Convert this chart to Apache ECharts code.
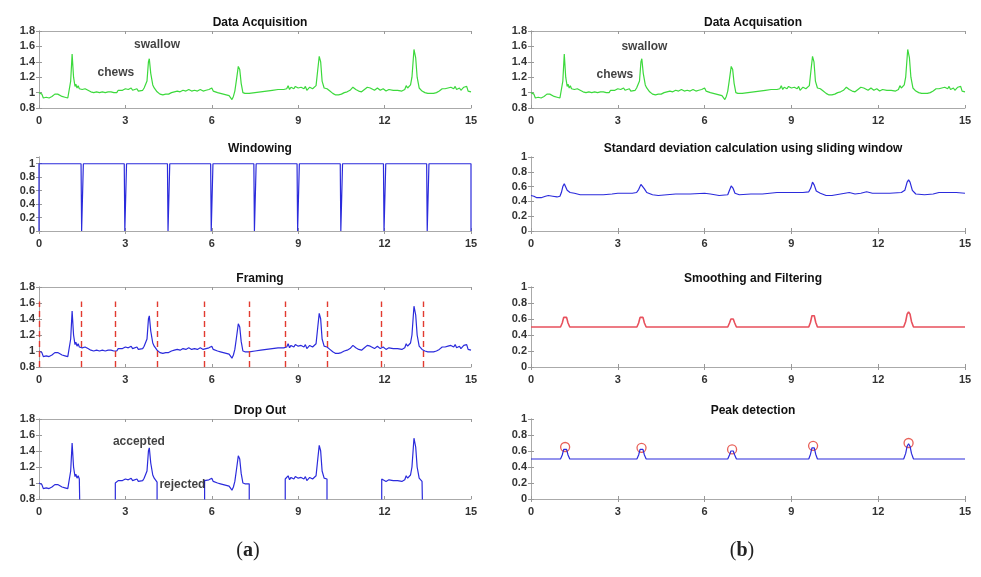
<!DOCTYPE html>
<html lang="en">
<head>
<meta charset="UTF-8">
<title>Swallow detection steps</title>
<script src="https://cdn.jsdelivr.net/npm/echarts@6/dist/echarts.min.js"></script>
<style>
    html, body { margin: 0; padding: 0; background: #fff; }
    #container { width: 981px; height: 577px; }
</style>
</head>
<body>
<div id="container"></div>
<script>
var sigT = [0.00,0.05,0.10,0.15,0.20,0.25,0.30,0.35,0.40,0.45,0.50,0.55,0.60,0.65,0.70,0.80,0.90,1.00,1.05,1.10,
    1.15,1.20,1.25,1.28,1.32,1.36,1.40,1.45,1.50,1.60,1.70,1.80,1.90,2.00,2.10,2.20,2.30,2.40,2.50,2.60,
    2.70,2.75,2.80,2.90,3.00,3.05,3.10,3.20,3.25,3.30,3.40,3.45,3.50,3.60,3.65,3.70,3.75,3.80,3.83,3.88,
    3.95,4.00,4.10,4.20,4.30,4.40,4.50,4.60,4.70,4.80,4.90,5.00,5.10,5.20,5.30,5.40,5.50,5.60,5.70,5.80,
    5.90,6.00,6.05,6.10,6.20,6.30,6.40,6.50,6.60,6.70,6.75,6.80,6.85,6.92,6.97,7.02,7.08,7.15,7.30,7.50,
    7.70,7.90,8.10,8.30,8.50,8.60,8.65,8.70,8.75,8.85,8.90,9.00,9.10,9.20,9.25,9.30,9.40,9.45,9.50,9.55,
    9.62,9.68,9.73,9.78,9.83,9.90,9.95,10.00,10.10,10.20,10.30,10.40,10.50,10.60,10.70,10.80,10.90,11.00,11.10,11.20,
    11.30,11.40,11.50,11.55,11.65,11.75,11.85,11.95,12.05,12.15,12.30,12.45,12.60,12.70,12.75,12.80,12.90,12.95,13.02,13.08,
    13.13,13.20,13.30,13.40,13.50,13.60,13.70,13.80,13.90,14.00,14.05,14.10,14.20,14.25,14.30,14.40,14.45,14.50,14.60,14.65,
    14.75,14.80,14.85,14.90,15.00];
var sigV = [1.00,1.00,0.98,0.93,0.92,0.94,0.92,0.93,0.91,0.95,0.96,0.98,0.99,0.98,0.96,0.95,0.94,0.93,0.95,1.15,
    1.50,1.20,1.08,1.11,1.06,1.09,1.05,1.06,1.04,1.05,1.03,1.01,1.00,1.01,1.00,1.01,1.00,1.01,1.01,1.00,
    1.00,1.03,1.01,1.03,1.05,1.03,1.04,1.06,1.03,1.04,1.05,1.02,1.04,1.03,1.06,1.05,1.15,1.40,1.44,1.25,
    1.10,1.06,1.01,0.98,0.97,0.98,0.98,1.00,1.01,1.02,1.01,1.03,1.02,1.04,1.02,1.03,1.02,1.04,1.02,1.03,
    1.04,1.06,1.02,1.01,1.00,0.99,0.98,0.97,0.96,0.91,0.95,1.02,1.15,1.34,1.30,1.12,1.00,0.99,0.99,1.00,
    1.01,1.02,1.03,1.04,1.04,1.05,1.09,1.04,1.07,1.05,1.08,1.06,1.07,1.05,1.08,1.03,1.07,1.09,1.05,1.07,
    1.09,1.30,1.47,1.40,1.15,1.06,1.08,1.05,1.02,0.99,0.97,0.97,0.98,1.00,1.01,1.03,1.07,1.04,1.02,1.01,
    1.04,1.07,1.06,1.08,1.03,1.06,1.03,1.05,1.02,1.04,1.03,1.03,1.02,1.04,1.09,1.06,1.10,1.20,1.56,1.45,
    1.20,1.06,1.02,1.00,0.99,0.99,0.99,1.00,1.02,1.05,1.07,1.05,1.06,1.04,1.07,1.05,1.08,1.04,1.06,1.03,
    1.07,1.05,1.08,1.02,1.01];

// windowing function
var winT = [0,0,1.46,1.48,1.52,1.54,2.96,2.98,3.02,3.04,4.46,4.48,4.52,4.54,5.96,5.98,6.02,6.04,
    7.46,7.48,7.52,7.54,8.96,8.98,9.02,9.04,10.46,10.48,10.52,10.54,11.96,11.98,12.02,12.04,
    13.46,13.48,13.52,13.54,15,15];
var winV = [0,1,1,0,0,1,1,0,0,1,1,0,0,1,1,0,0,1,
    1,0,0,1,1,0,0,1,1,0,0,1,1,0,0,1,
    1,0,0,1,1,0];

// frame boundaries (red dashed) and frames kept after drop out
var frameEdges = [0, 1.45, 2.65, 4.1, 5.75, 7.3, 8.55, 10.0, 11.9, 13.35];
var frameTop = 1.62;
var keptStart = [0, 2.65, 5.75, 8.55, 11.9];
var keptEnd = [1.45, 4.1, 7.3, 10.0, 13.35];

// standard deviation with sliding window
var stdT = [0.0,0.1,0.2,0.35,0.5,0.6,0.75,0.9,1.0,1.05,1.1,1.15,1.2,1.25,1.35,1.5,1.7,2.0,2.5,2.8,
    3.0,3.3,3.5,3.65,3.72,3.8,3.85,3.92,4.0,4.2,4.4,4.7,5.0,5.5,6.0,6.2,6.5,6.8,6.85,6.92,
    6.98,7.05,7.2,7.6,8.0,8.5,9.0,9.4,9.6,9.67,9.73,9.79,9.86,10.0,10.2,10.4,10.7,11.0,11.2,11.4,
    11.6,11.8,12.0,12.4,12.8,12.92,13.0,13.05,13.1,13.18,13.3,13.6,13.9,14.1,14.4,14.7,15.0];
var stdV = [0.48,0.47,0.45,0.45,0.47,0.48,0.47,0.46,0.47,0.52,0.60,0.64,0.62,0.55,0.52,0.51,0.49,0.49,0.49,0.50,
    0.51,0.51,0.51,0.52,0.56,0.63,0.64,0.57,0.52,0.49,0.48,0.49,0.50,0.50,0.51,0.50,0.48,0.49,0.54,0.61,
    0.58,0.51,0.49,0.50,0.50,0.52,0.52,0.52,0.53,0.58,0.66,0.62,0.54,0.51,0.48,0.48,0.50,0.52,0.50,0.51,
    0.53,0.51,0.51,0.51,0.52,0.55,0.66,0.69,0.66,0.55,0.50,0.49,0.50,0.52,0.52,0.52,0.51];

// smoothed / filtered signal
var smT = [0,1.02,1.08,1.13,1.18,1.23,1.28,1.34,3.66,3.72,3.77,3.82,3.87,3.92,3.98,
    6.80,6.86,6.91,6.95,6.99,7.04,7.10,9.60,9.66,9.71,9.75,9.79,9.84,9.90,
    12.88,12.95,13.00,13.05,13.10,13.15,13.22,15];
var smV = [0.5,0.5,0.55,0.62,0.64,0.62,0.55,0.5,0.5,0.55,0.62,0.64,0.62,0.55,0.5,
    0.5,0.55,0.60,0.61,0.60,0.55,0.5,0.5,0.56,0.64,0.66,0.64,0.56,0.5,
    0.5,0.57,0.66,0.69,0.66,0.57,0.5,0.5];

// detected peaks
var peakT = [1.18, 3.82, 6.95, 9.75, 13.05];
var peakV = [0.65, 0.64, 0.62, 0.665, 0.70];

// panel titles, in order: left column top->bottom, then right column
var titles = ['Data Acquisition', 'Windowing', 'Framing', 'Drop Out',
    'Data Acquisation', 'Standard deviation calculation using sliding window',
    'Smoothing and Filtering', 'Peak detection'];
var yMins = [0.8, 0, 0.8, 0.8, 0.8, 0, 0, 0];
var yMaxs = [1.8, 1.1, 1.8, 1.8, 1.8, 1, 1, 1];
var xTicks = [0, 15, 3];

// text notes inside panels
var notePanel = [0, 0, 4, 4, 3, 3];
var noteText = ['chews', 'swallow', 'chews', 'swallow', 'accepted', 'rejected'];
var noteX = [2.67, 4.1, 2.9, 3.92, 3.47, 4.98];
var noteY = [1.265, 1.62, 1.23, 1.6, 1.52, 0.98];

var GREEN = '#3cd93c', BLUE = '#2b2bdc', RED = '#e23a30', PINK = '#e8505c';
var colLeft = [39, 531], colWidth = [432, 434];
var rowTop = [31, 157, 287, 419], rowHeight = [77, 74, 80, 80];

var chart = echarts.init(document.getElementById('container'));

function pairs(t, v) {
    return t.map(function (x, i) { return [x, v[i]]; });
}

var grids = [], xAxes = [], yAxes = [], titleList = [], series = [];
for (var p = 0; p < 8; p++) {
    var col = p < 4 ? 0 : 1, row = p % 4;
    grids.push({ left: colLeft[col], top: rowTop[row], width: colWidth[col], height: rowHeight[row] });
    titleList.push({
        text: titles[p], left: colLeft[col] + colWidth[col] / 2, top: rowTop[row] - 19,
        textAlign: 'center',
        textStyle: { fontSize: 12, fontWeight: 'bold', color: '#111', fontFamily: 'Liberation Sans' }
    });
    var tick = { show: true, inside: true, length: 3, lineStyle: { color: '#999' } };
    var line = { show: true, lineStyle: { color: '#aaa', width: 1 } };
    xAxes.push({
        type: 'value', gridIndex: p, position: 'bottom', min: xTicks[0], max: xTicks[1], interval: xTicks[2],
        axisLine: line, axisTick: tick, splitLine: { show: false },
        axisLabel: { margin: 7, fontSize: 11, fontWeight: 'bold', color: '#333', fontFamily: 'Liberation Sans' }
    });
    xAxes.push({
        type: 'value', gridIndex: p, position: 'top', min: xTicks[0], max: xTicks[1], interval: xTicks[2],
        axisLine: line, axisTick: tick, axisLabel: { show: false }, splitLine: { show: false }
    });
    yAxes.push({
        type: 'value', gridIndex: p, position: 'left', min: yMins[p], max: yMaxs[p], interval: 0.2,
        axisLine: line, axisTick: tick, splitLine: { show: false },
        axisLabel: { margin: 4, fontSize: 11, fontWeight: 'bold', color: '#333', fontFamily: 'Liberation Sans', showMaxLabel: yMaxs[p] !== 1.1 }
    });
    yAxes.push({
        type: 'value', gridIndex: p, position: 'right', min: yMins[p], max: yMaxs[p], interval: 0.2,
        axisLine: line, axisTick: tick, axisLabel: { show: false }, splitLine: { show: false }
    });
}

function lineSeries(p, data, color, extra) {
    var s = {
        type: 'line', xAxisIndex: p * 2, yAxisIndex: p * 2, data: data, showSymbol: false, symbol: 'none',
        lineStyle: { color: color, width: 1.2 }, itemStyle: { color: color }, silent: true
    };
    for (var k in extra) s[k] = extra[k];
    return s;
}

var signal = pairs(sigT, sigV);
series.push(lineSeries(0, signal, GREEN));
series.push(lineSeries(4, signal, GREEN));
series.push(lineSeries(1, pairs(winT, winV), BLUE));
series.push(lineSeries(2, signal, BLUE, {
    markLine: {
        silent: true, symbol: ['none', 'none'], label: { show: false },
        lineStyle: { color: RED, type: [6, 4], width: 1.4 },
        data: frameEdges.map(function (x) { return [{ coord: [x, yMins[2]] }, { coord: [x, frameTop] }]; })
    }
}));

// drop out: keep only accepted frames, drop to the floor at frame edges
for (var f = 0; f < keptStart.length; f++) {
    var pts = [];
    sigT.forEach(function (t, i) { if (t >= keptStart[f] && t <= keptEnd[f]) pts.push([t, sigV[i]]); });
    if (keptStart[f] > 0) { pts.unshift([keptStart[f], pts[0][1]]); pts.unshift([keptStart[f], 0]); }
    pts.push([keptEnd[f], pts[pts.length - 1][1]]);
    pts.push([keptEnd[f], 0]);
    series.push(lineSeries(3, pts, BLUE));
}

series.push(lineSeries(5, pairs(stdT, stdV), BLUE));
series.push(lineSeries(6, pairs(smT, smV), PINK, { lineStyle: { color: PINK, width: 1.6 } }));
series.push(lineSeries(7, pairs(smT, smV), BLUE));
series.push({
    type: 'scatter', xAxisIndex: 14, yAxisIndex: 14, data: pairs(peakT, peakV), symbol: 'circle', symbolSize: 9,
    itemStyle: { color: 'rgba(255,255,255,0)', borderColor: RED, borderWidth: 1.3 }, silent: true
});

for (var n = 0; n < noteText.length; n++) {
    series.push({
        type: 'scatter', xAxisIndex: notePanel[n] * 2, yAxisIndex: notePanel[n] * 2, symbolSize: 1,
        itemStyle: { color: 'rgba(0,0,0,0)' }, silent: true, z: 5,
        data: [{ value: [noteX[n], noteY[n]], label: { formatter: noteText[n] } }],
        label: { show: true, position: 'inside', fontSize: 12, fontWeight: 'bold', color: '#111', fontFamily: 'Liberation Sans' }
    });
}

chart.setOption({
    animation: false,
    title: titleList,
    grid: grids,
    xAxis: xAxes,
    yAxis: yAxes,
    series: series,
    graphic: [
        { type: 'text', x: 248, y: 551, style: { text: '{n|(}{b|a}{n|)}', textAlign: 'center', textVerticalAlign: 'middle',
            rich: { n: { fontSize: 20, fontFamily: 'Liberation Serif', fill: '#222' }, b: { fontSize: 20, fontWeight: 'bold', fontFamily: 'Liberation Serif', fill: '#222' } } } },
        { type: 'text', x: 742, y: 551, style: { text: '{n|(}{b|b}{n|)}', textAlign: 'center', textVerticalAlign: 'middle',
            rich: { n: { fontSize: 20, fontFamily: 'Liberation Serif', fill: '#222' }, b: { fontSize: 20, fontWeight: 'bold', fontFamily: 'Liberation Serif', fill: '#222' } } } }
    ]
});
</script>
</body>
</html>
